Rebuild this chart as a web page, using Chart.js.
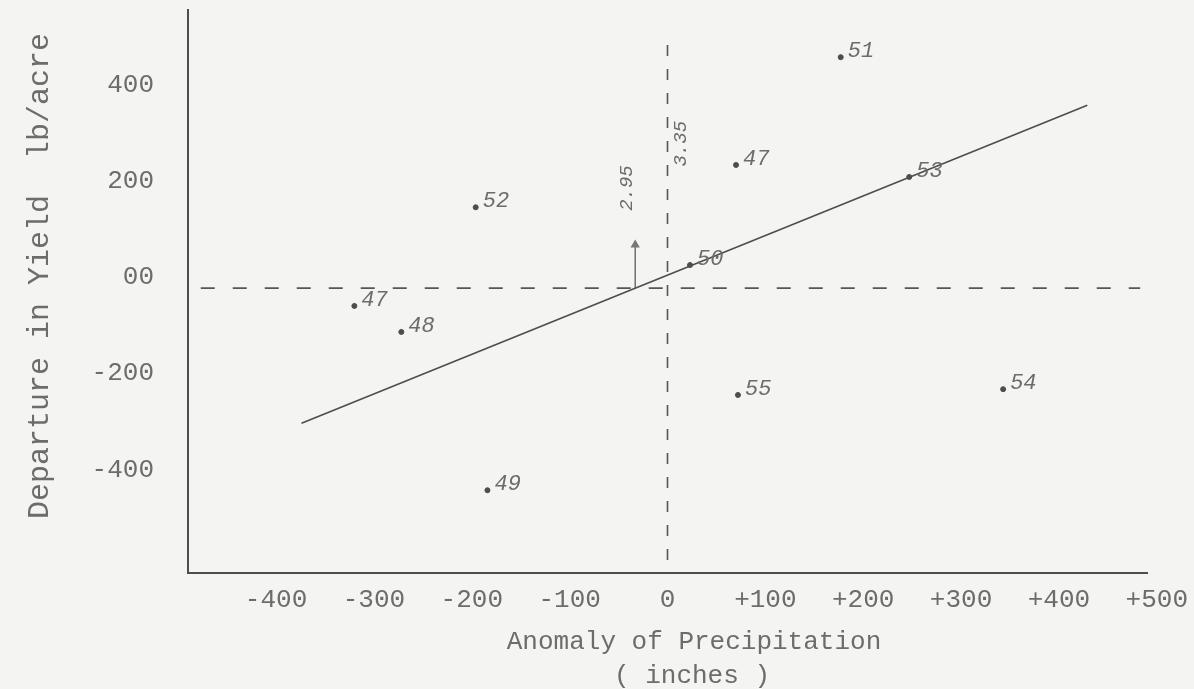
<!DOCTYPE html>
<html>
<head>
<meta charset="utf-8">
<script src="https://cdn.jsdelivr.net/npm/chart.js@4.4.1/dist/chart.umd.min.js"></script>
<style>
  html, body { margin: 0; padding: 0; background: #f4f4f2; }
  #wrap { width: 1194px; height: 689px; }
</style>
</head>
<body>
<div id="wrap"><canvas id="myChart" width="1194" height="689"></canvas></div>
<script>
// yearly points: precipitation anomaly vs departure in yield
const years = ['51', '47', '53', '52', '50', '47', '48', '55', '54', '49'];
const precipAnomaly = [177, 70, 247, -196, 23, -320, -272, 72, 343, -184];
const yieldDeparture = [480, 256, 231, 168, 48, -37, -91, -222, -210, -420];

// fitted line, read at its two ends
const lineX = [-374, 429];
const lineY = [-281, 380];

// dashed mean lines and the zero-crossing marker
const meanLineX = [-477, 483];
const meanLineY = [-565, 526];
const crossX = -33;
const crossY = [0, 90];
const meanPrecip = '3.35';
const crossPrecip = '2.95';

const xTickValues = [-400, -300, -200, -100, 0, 100, 200, 300, 400, 500];
const xTickLabels = ['-400', '-300', '-200', '-100', '0', '+100', '+200', '+300', '+400', '+500'];
const yTickValues = [400, 200, 0, -200, -400];
const yTickLabels = ['400', '200', '00', '-200', '-400'];

const ink = '#4d4d4d';
const typeInk = '#6c6c6c';
const mono = '"Liberation Mono", "DejaVu Sans Mono", monospace';

const pts = years.map((y, i) => ({ x: precipAnomaly[i], y: yieldDeparture[i] }));

const paper = {
  id: 'paper',
  beforeDraw(chart) {
    const c = chart.ctx;
    c.save();
    c.fillStyle = '#f4f4f2';
    c.fillRect(0, 0, chart.width, chart.height);
    c.restore();
  }
};

const notes = {
  id: 'notes',
  afterDatasetsDraw(chart) {
    const c = chart.ctx;
    const sx = chart.scales.x, sy = chart.scales.y;
    c.save();
    c.fillStyle = typeInk;
    c.textBaseline = 'middle';
    c.textAlign = 'left';

    // year labels next to the dots
    c.font = 'italic 22px ' + mono;
    chart.getDatasetMeta(0).data.forEach((el, i) => {
      c.fillText(years[i], el.x + 7, el.y - 6);
    });

    // rotated values on the marker and the mean line
    c.font = 'italic 19px ' + mono;
    c.textAlign = 'center';
    c.save();
    c.translate(sx.getPixelForValue(crossX) - 8, sy.getPixelForValue(208));
    c.rotate(-Math.PI / 2);
    c.fillText(crossPrecip, 0, 0);
    c.restore();
    c.save();
    c.translate(sx.getPixelForValue(0) + 13, sy.getPixelForValue(300));
    c.rotate(-Math.PI / 2);
    c.fillText(meanPrecip, 0, 0);
    c.restore();

    // axis titles
    c.font = '26px ' + mono;
    c.fillText('Anomaly of Precipitation', 694, 642);
    c.fillText('( inches )', 692, 676);
    c.font = '30px ' + mono;
    c.save();
    c.translate(40, 276);
    c.rotate(-Math.PI / 2);
    c.fillText('Departure in Yield  lb/acre', 0, 0);
    c.restore();
    c.restore();
  }
};

new Chart(document.getElementById('myChart'), {
  type: 'scatter',
  data: {
    datasets: [
      {
        data: pts,
        pointRadius: 2.5,
        pointBackgroundColor: ink,
        pointBorderColor: ink,
        showLine: false
      },
      {
        data: lineX.map((x, i) => ({ x: x, y: lineY[i] })),
        showLine: true,
        pointRadius: 0,
        borderColor: ink,
        borderWidth: 1.6
      },
      {
        data: meanLineX.map(x => ({ x: x, y: 0 })),
        showLine: true,
        pointRadius: 0,
        borderColor: '#555',
        borderWidth: 1.6,
        borderDash: [14, 18]
      },
      {
        data: meanLineY.map(y => ({ x: 0, y: y })),
        showLine: true,
        pointRadius: 0,
        borderColor: '#555',
        borderWidth: 1.6,
        borderDash: [11, 13]
      },
      {
        data: crossY.map(y => ({ x: crossX, y: y })),
        showLine: true,
        pointRadius: [0, 4],
        pointStyle: 'triangle',
        pointBackgroundColor: '#777',
        pointBorderColor: '#777',
        borderColor: '#666',
        borderWidth: 1.4
      }
    ]
  },
  options: {
    responsive: false,
    animation: false,
    layout: { padding: { top: 10, right: 47, bottom: 0, left: 0 } },
    plugins: { legend: { display: false }, tooltip: { enabled: false } },
    scales: {
      x: {
        type: 'linear',
        min: -490,
        max: 490,
        afterFit(s) { s.height = 116; s.paddingLeft = 0; s.paddingRight = 0; },
        afterBuildTicks(s) { s.ticks = xTickValues.map(v => ({ value: v })); },
        grid: { display: false },
        border: { display: true, color: ink, width: 2 },
        ticks: {
          padding: 4,
          color: typeInk,
          font: { family: mono, size: 26 },
          maxRotation: 0,
          autoSkip: false,
          callback: v => xTickLabels[xTickValues.indexOf(v)]
        }
      },
      y: {
        type: 'linear',
        min: -592,
        max: 578,
        afterFit(s) { s.width = 188; s.paddingTop = 0; s.paddingBottom = 0; },
        afterBuildTicks(s) { s.ticks = yTickValues.map(v => ({ value: v })); },
        grid: { display: false },
        border: { display: true, color: ink, width: 2 },
        ticks: {
          padding: 26,
          labelOffset: -11,
          color: typeInk,
          font: { family: mono, size: 26 },
          callback: v => yTickLabels[yTickValues.indexOf(v)]
        }
      }
    }
  },
  plugins: [paper, notes]
});
</script>
</body>
</html>
